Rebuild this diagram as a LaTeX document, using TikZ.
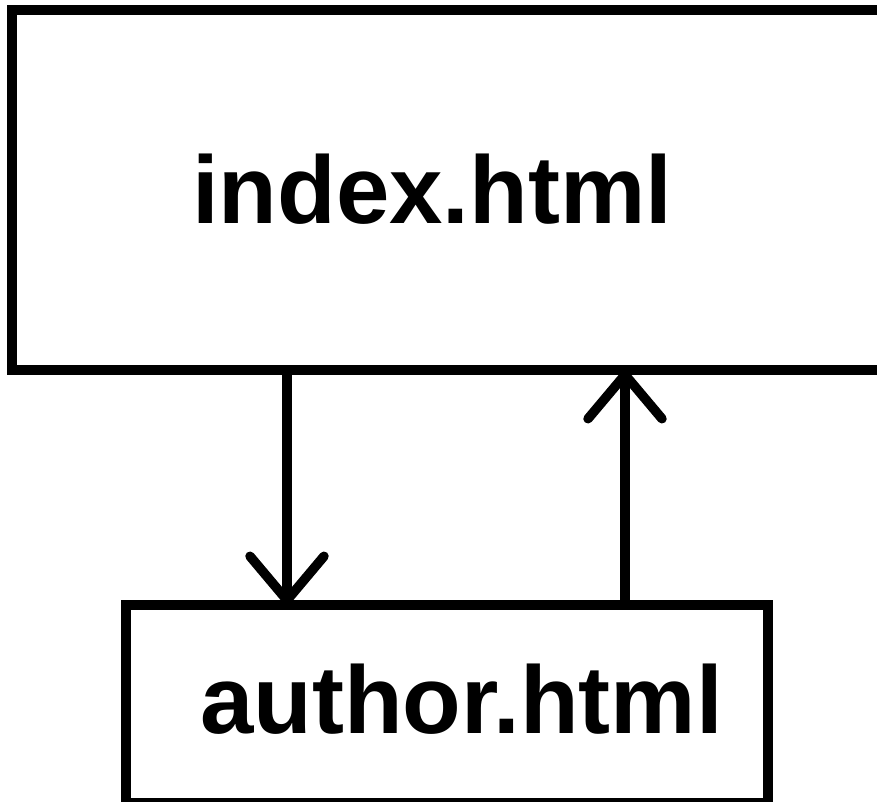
\documentclass[tikz,border=0pt]{standalone}
\usepackage{fontspec}
\setmainfont{Liberation Sans}
\usetikzlibrary{arrows.meta}
\begin{document}
\begin{tikzpicture}[x=1pt,y=-1pt,
  box/.style={draw=black,line width=10pt,inner sep=0pt,outer sep=0pt,fill=white},
  label/.style={font=\fontsize{96pt}{110pt}\selectfont\bfseries,inner sep=0pt,outer sep=0pt,anchor=base west},
  arr/.style={draw=black,line width=9.5pt,-{Straight Barb[length=44pt,width=74pt,round]}}]
\useasboundingbox (0,0) rectangle (877,802);
\clip (0,0) rectangle (877,802);
\fill[white] (0,0) rectangle (877,802);
\node[box,minimum width=930pt,minimum height=360pt] (index) at (477,190) {};
\node[box,minimum width=642pt,minimum height=198pt] (author) at (447,704) {};
\node[label] (indext) at (192,223) {index.html};
\node[label] (authort) at (200,733) {author.html};
\coordinate (c1) at (287,0);
\coordinate (c2) at (625,0);
\draw[arr] (c1 |- index.south) -- (c1 |- author.north);
\draw[arr] (c2 |- author.north) -- (c2 |- index.south);
\end{tikzpicture}
\end{document}
